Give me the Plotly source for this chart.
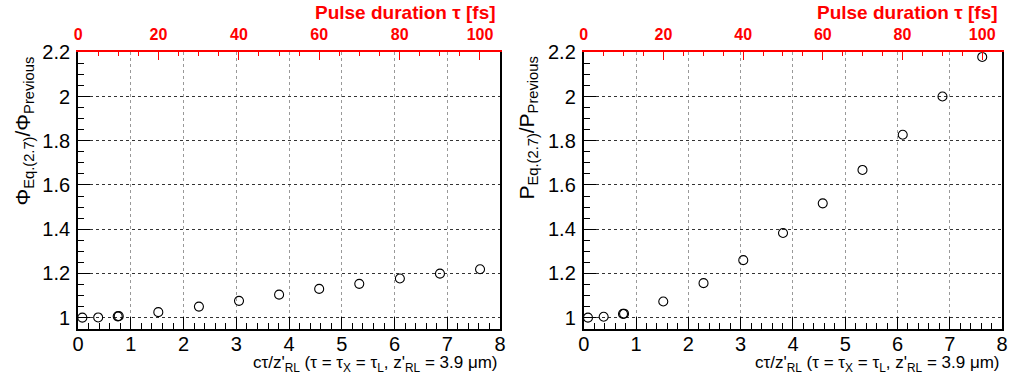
import plotly.graph_objects as go

# Normalised pulse duration c*tau/z'_RL for each simulated pulse
ct_over_z = [0.08, 0.38, 0.75, 0.77, 1.52, 2.29, 3.05, 3.81, 4.57, 5.33, 6.10, 6.86, 7.62]
# Ratio of fluence (Phi) from Eq.(2.7) to the previous estimate
phi_ratio = [1.000, 1.001, 1.006, 1.007, 1.025, 1.050, 1.076, 1.104, 1.130, 1.153, 1.177, 1.199, 1.219]
# Ratio of probability (P) from Eq.(2.7) to the previous estimate
p_ratio = [1.000, 1.004, 1.017, 1.018, 1.073, 1.156, 1.260, 1.383, 1.517, 1.668, 1.827, 2.000, 2.179]

x_range = [0, 8]
y_range = [0.949, 2.2]
tau_range = [0, 105]          # fs, the same span as x_range
x_ticks = [0, 1, 2, 3, 4, 5, 6, 7, 8]
y_ticks = [1.0, 1.2, 1.4, 1.6, 1.8, 2.0, 2.2]
y_ticklabels = ["1", "1.2", "1.4", "1.6", "1.8", "2", "2.2"]
tau_ticks = [0, 20, 40, 60, 80, 100]

W, H = 1016, 385
FONT = "Liberation Sans, Arial, Helvetica, sans-serif"
RED = "#ff0000"

panels = [
    dict(y=phi_ratio, x0=73, x1=500,
         ytitle="Φ<sub>Eq.(2.7)</sub>/Φ<sub>Previous</sub>", ytitle_x=18),
    dict(y=p_ratio, x0=584.7, x1=1008,
         ytitle="P<sub>Eq.(2.7)</sub>/P<sub>Previous</sub>", ytitle_x=528),
]
plot_top, plot_bottom = 42.5, 327.3
ydom = [(H - plot_bottom) / H, (H - plot_top) / H]

fig = go.Figure()
layout = dict(width=W, height=H, margin=dict(l=0, r=0, t=0, b=0),
              paper_bgcolor="white", plot_bgcolor="white", showlegend=False,
              font=dict(family=FONT, color="black"))
annotations = []

for i, p in enumerate(panels):
    xa = "x" if i == 0 else "x3"
    xtop = "x2" if i == 0 else "x4"
    ya = "y" if i == 0 else "y2"
    xkey = "xaxis" if i == 0 else "xaxis3"
    ykey = "yaxis" if i == 0 else "yaxis2"
    topkey = "xaxis2" if i == 0 else "xaxis4"
    dom = [p["x0"] / W, p["x1"] / W]

    fig.add_trace(go.Scatter(
        x=ct_over_z, y=p["y"], xaxis=xa, yaxis=ya, mode="markers",
        marker=dict(symbol="circle-open", size=9, color="black",
                    line=dict(width=1.1, color="black")),
        hoverinfo="x+y"))
    # empty trace so the pulse-duration axis is drawn on top
    fig.add_trace(go.Scatter(x=[None], y=[None], xaxis=xtop, yaxis=ya,
                             mode="markers", hoverinfo="skip"))

    layout[xkey] = dict(
        domain=dom, anchor=ya, range=x_range, tickvals=x_ticks,
        ticks="inside", ticklen=12, tickwidth=1.2, tickcolor="black",
        minor=dict(dtick=0.2, ticks="inside", ticklen=6, tickwidth=1,
                   tickcolor="black", showgrid=False),
        showline=True, linecolor="black", linewidth=2,
        showgrid=True, gridcolor="#999999", griddash="dot", gridwidth=1,
        zeroline=False, tickfont=dict(size=20, family=FONT, color="black"),
        ticklabelstandoff=-4)
    layout[topkey] = dict(
        domain=dom, anchor=ya, overlaying=xa, side="top", range=tau_range,
        tickvals=tau_ticks, ticks="inside", ticklen=8, tickwidth=1.2,
        tickcolor=RED,
        minor=dict(dtick=5, ticks="inside", ticklen=4, tickwidth=1,
                   tickcolor=RED, showgrid=False),
        showline=True, linecolor=RED, linewidth=2, showgrid=False,
        zeroline=False, ticklabelstandoff=4,
        tickfont=dict(size=16, family=FONT, color=RED, weight="bold"))
    layout[ykey] = dict(
        domain=ydom, anchor=xa, range=y_range, tickvals=y_ticks,
        ticktext=y_ticklabels, ticks="inside", ticklen=12, tickwidth=1.2,
        tickcolor="black",
        minor=dict(dtick=0.05, tick0=1.0, ticks="inside", ticklen=6,
                   tickwidth=1, tickcolor="black", showgrid=False),
        showline=True, linecolor="black", linewidth=2, mirror=True,
        showgrid=True, gridcolor="#333333", griddash="dot", gridwidth=1,
        zeroline=False, tickfont=dict(size=20, family=FONT, color="black"),
        ticklabelstandoff=2)

    # top (red) axis title, right aligned
    annotations.append(dict(
        text="<b>Pulse duration τ [fs]</b>", xref="paper", yref="paper",
        x=(p["x1"] - 2) / W, y=(H + 11) / H, xanchor="right", yanchor="top",
        showarrow=False, font=dict(size=19, color=RED, family=FONT)))
    # bottom axis title, right aligned
    annotations.append(dict(
        text="cτ/z'<sub>RL</sub> (τ = τ<sub>X</sub> = τ<sub>L</sub>, "
             "z'<sub>RL</sub> = 3.9 μm)",
        xref="paper", yref="paper", x=p["x1"] / W, y=(H - 350) / H,
        xanchor="right", yanchor="top", showarrow=False,
        font=dict(size=17, color="black", family=FONT)))
    # y axis title, rotated and aligned with the top of the frame
    annotations.append(dict(
        text=p["ytitle"], xref="paper", yref="paper",
        x=p["ytitle_x"] / W, y=(H - plot_top - 2) / H, xanchor="center",
        yanchor="top", textangle=-90, showarrow=False,
        font=dict(size=21, color="black", family=FONT)))

layout["annotations"] = annotations
fig.update_layout(**layout)
fig.write_html("out.html")
